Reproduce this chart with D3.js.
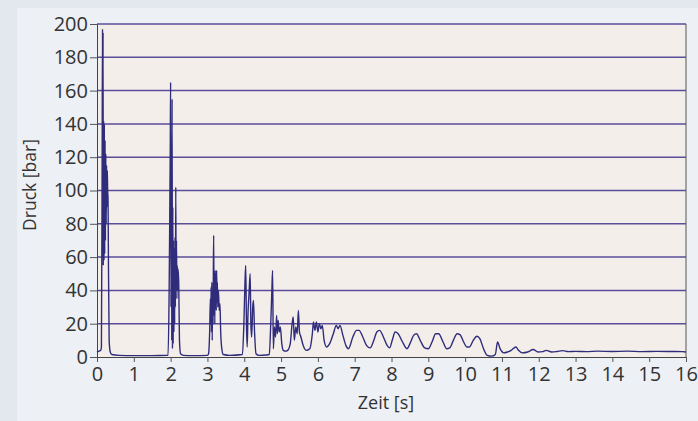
<!DOCTYPE html>
<html>
<head>
<meta charset="utf-8">
<script src="https://cdn.jsdelivr.net/npm/d3@7"></script>
<style>
  body { margin: 0; background: #e3e7ee; }
  svg { display: block; }
</style>
</head>
<body>
<script>
// Druckverlauf [Zeit s, Druck bar]
const puls1 = [
  [0, 3], [0.05, 3.5], [0.1, 4], [0.12, 6], [0.14, 120], [0.15, 197], [0.155, 60],
  [0.165, 195], [0.17, 55], [0.18, 142], [0.19, 58], [0.2, 140], [0.21, 62],
  [0.22, 130], [0.23, 70], [0.24, 122], [0.25, 80], [0.26, 115], [0.27, 90],
  [0.28, 112], [0.29, 100], [0.3, 95], [0.31, 60], [0.33, 10], [0.36, 3],
  [0.4, 1.5], [0.6, 1], [1.0, 0.8], [1.5, 0.8], [1.9, 1]
];
const puls2 = [
  [1.93, 1], [1.96, 40], [1.98, 95], [1.99, 125], [2.0, 165], [2.01, 30],
  [2.02, 120], [2.03, 10], [2.04, 155], [2.05, 5], [2.06, 90], [2.07, 8],
  [2.08, 70], [2.09, 15], [2.1, 65], [2.11, 20], [2.12, 72], [2.13, 30],
  [2.14, 102], [2.15, 40], [2.16, 70], [2.17, 35], [2.18, 55], [2.19, 40],
  [2.2, 53], [2.22, 45], [2.24, 10], [2.27, 2], [2.35, 1], [2.6, 0.8],
  [3.0, 1], [3.03, 2]
];
const puls3 = [
  [3.06, 15], [3.08, 35], [3.09, 20], [3.1, 42], [3.11, 15], [3.12, 45],
  [3.13, 10], [3.14, 40], [3.15, 20], [3.16, 50], [3.17, 73], [3.18, 25],
  [3.19, 48], [3.2, 20], [3.21, 52], [3.22, 30], [3.23, 50], [3.24, 28],
  [3.25, 52], [3.26, 35], [3.27, 45], [3.28, 30], [3.3, 40], [3.32, 28],
  [3.34, 32], [3.36, 15], [3.39, 5], [3.43, 1.5], [3.6, 1], [3.95, 1.5]
];
const puls4 = [
  [3.99, 20], [4.02, 45], [4.04, 55], [4.06, 20], [4.08, 6], [4.1, 25],
  [4.13, 38], [4.16, 50], [4.18, 20], [4.2, 12], [4.23, 30], [4.25, 34],
  [4.28, 15], [4.32, 2], [4.4, 1], [4.6, 1.2], [4.68, 1.5]
];
const puls5 = [
  [4.72, 20], [4.75, 40], [4.77, 52], [4.79, 5], [4.82, 18], [4.85, 12],
  [4.88, 25], [4.9, 14], [4.92, 22], [4.95, 15], [4.98, 18], [5.02, 8],
  [5.06, 4], [5.12, 3.5], [5.18, 4], [5.25, 8], [5.3, 20], [5.33, 24],
  [5.36, 10], [5.4, 18], [5.44, 14], [5.47, 28], [5.5, 15], [5.54, 12],
  [5.6, 7], [5.68, 4], [5.78, 5], [5.85, 14], [5.88, 21], [5.92, 16],
  [5.96, 21], [6.0, 15], [6.04, 20], [6.08, 17], [6.12, 19], [6.17, 10],
  [6.24, 6], [6.32, 8], [6.42, 14], [6.5, 19], [6.55, 17], [6.6, 19],
  [6.68, 13], [6.76, 7], [6.83, 5]
];
const schwingung = [
  [6.95, 12], [7.05, 16], [7.12, 16], [7.22, 12], [7.32, 7], [7.42, 5.5],
  [7.52, 10], [7.6, 15], [7.68, 16], [7.78, 12], [7.88, 7], [7.95, 5.5],
  [8.02, 10], [8.1, 15], [8.18, 14], [8.3, 9], [8.42, 5], [8.52, 9],
  [8.6, 13], [8.68, 14], [8.78, 10], [8.9, 5.5], [9.0, 5], [9.1, 9],
  [9.2, 14], [9.28, 14], [9.4, 9], [9.5, 5], [9.58, 5.5], [9.68, 10],
  [9.78, 14], [9.86, 13.5], [9.96, 9], [10.05, 6], [10.12, 6], [10.22, 10],
  [10.32, 12.5], [10.4, 11], [10.5, 5], [10.6, 1], [10.72, 0.5]
];
const ausklang = [
  [10.82, 1.5], [10.88, 9], [10.95, 5], [11.05, 2.5], [11.15, 3], [11.25, 4],
  [11.38, 6], [11.45, 4], [11.55, 2.5], [11.7, 3], [11.85, 4.5], [11.98, 3],
  [12.1, 3.2], [12.2, 4], [12.35, 3], [12.5, 3.3], [12.65, 3.8], [12.8, 3.2],
  [13.0, 3.4], [13.3, 3.2], [13.6, 3.5], [14.0, 3.3], [14.4, 3.5], [14.8, 3.2],
  [15.2, 3.4], [15.6, 3.3], [15.9, 3.2], [16, 3]
];

const xTicks = d3.range(0, 17, 1);
const yTicks = d3.range(0, 201, 20);

const data = [].concat(puls1, puls2, puls3, puls4, puls5, schwingung, ausklang);

const W = 698, H = 421;

const svg = d3.select('body').append('svg')
    .attr('width', W)
    .attr('height', H);

// heller Rahmen hinter dem Diagramm
svg.append('rect')
    .attr('x', 17).attr('y', 8)
    .attr('width', W - 17).attr('height', H - 8)
    .attr('fill', '#edf0f4');

const x = d3.scaleLinear().domain([0, 16]).range([97, 686]);
const y = d3.scaleLinear().domain([0, 200]).range([357, 24]);

// Plotfläche
svg.append('rect')
    .attr('x', x(0)).attr('y', y(200))
    .attr('width', x(16) - x(0)).attr('height', y(0) - y(200))
    .attr('fill', '#f3eee9');

// Gitterlinien
svg.append('g').selectAll('line')
  .data(yTicks.filter(d => d > 0))
  .join('line')
    .attr('x1', x(0)).attr('x2', x(16))
    .attr('y1', d => y(d)).attr('y2', d => y(d))
    .attr('stroke', '#5a4d9a')
    .attr('stroke-width', 1.5);

// rechter Rand
svg.append('line')
    .attr('x1', x(16)).attr('x2', x(16))
    .attr('y1', y(200)).attr('y2', y(0))
    .attr('stroke', '#555')
    .attr('stroke-width', 1);

const xAxis = d3.axisBottom(x)
    .tickValues(xTicks)
    .tickSize(5)
    .tickPadding(5)
    .tickFormat(d3.format('d'));

const yAxis = d3.axisLeft(y)
    .tickValues(yTicks)
    .tickSize(7)
    .tickPadding(2)
    .tickFormat(d3.format('d'));

const gx = svg.append('g')
    .attr('transform', 'translate(0,' + y(0) + ')')
    .call(xAxis);

const gy = svg.append('g')
    .attr('transform', 'translate(' + x(0) + ',0)')
    .call(yAxis);

[gx, gy].forEach(g => {
  g.select('.domain').attr('stroke', '#444');
  g.selectAll('.tick line').attr('stroke', '#555');
  g.selectAll('.tick text')
      .attr('fill', '#333')
      .style('font-family', '"Open Sans", sans-serif')
      .style('font-size', '20px');
});

// Kurve
const line = d3.line()
    .x(d => x(d[0]))
    .y(d => y(d[1]))
    .curve(d3.curveMonotoneX);

svg.append('path')
    .datum(data)
    .attr('fill', 'none')
    .attr('stroke', '#2f2c7c')
    .attr('stroke-width', 1.4)
    .attr('stroke-linejoin', 'round')
    .attr('d', line);

// Achsentitel
svg.append('text')
    .attr('transform', 'translate(36,185) rotate(-90)')
    .attr('text-anchor', 'middle')
    .attr('fill', '#333')
    .style('font-family', '"Open Sans", sans-serif')
    .style('font-size', '17.5px')
    .text('Druck [bar]');

svg.append('text')
    .attr('x', 386).attr('y', 409)
    .attr('text-anchor', 'middle')
    .attr('fill', '#333')
    .style('font-family', '"Open Sans", sans-serif')
    .style('font-size', '18px')
    .text('Zeit [s]');
</script>
</body>
</html>
